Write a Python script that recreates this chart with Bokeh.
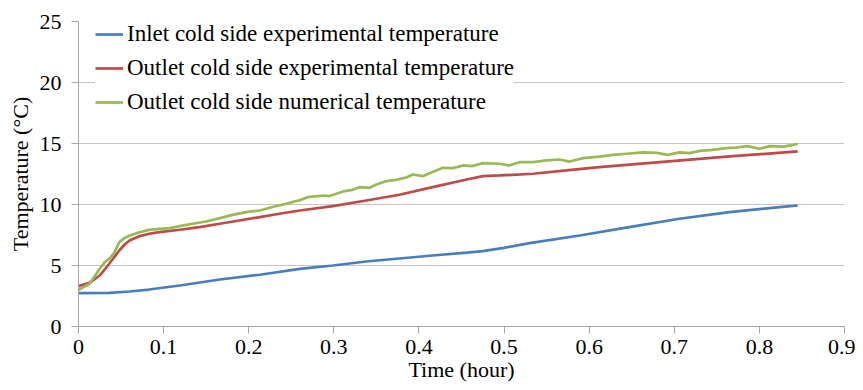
from bokeh.plotting import figure
from bokeh.models import Range1d, FixedTicker, Legend, LegendItem
from bokeh.embed import file_html
from bokeh.resources import INLINE

# ---- data ----
x_inlet = [0, 0.036, 0.06, 0.083, 0.119, 0.166, 0.213, 0.26, 0.299, 0.338, 0.416,
           0.456, 0.475, 0.5, 0.53, 0.589, 0.647, 0.706, 0.765, 0.824, 0.845]
y_inlet = [2.74, 2.76, 2.87, 3.03, 3.36, 3.85, 4.24, 4.73, 5.0, 5.33, 5.82,
           6.05, 6.18, 6.45, 6.83, 7.46, 8.15, 8.83, 9.38, 9.79, 9.92]

x_outlet_exp = [0, 0.013, 0.025, 0.036, 0.048, 0.054, 0.06, 0.072, 0.083, 0.095,
                0.119, 0.142, 0.166, 0.189, 0.213, 0.236, 0.26, 0.299, 0.338,
                0.377, 0.416, 0.456, 0.475, 0.495, 0.534, 0.573, 0.612, 0.69,
                0.769, 0.845]
y_outlet_exp = [3.31, 3.58, 4.18, 5.14, 6.23, 6.7, 7.05, 7.41, 7.6, 7.73,
                7.93, 8.15, 8.42, 8.69, 8.97, 9.24, 9.51, 9.87, 10.33,
                10.8, 11.42, 12.05, 12.33, 12.38, 12.52, 12.79, 13.07, 13.52,
                13.96, 14.35]

x_outlet_num = [0, 0.013, 0.025, 0.031, 0.036, 0.042, 0.048, 0.054, 0.06, 0.072,
                0.083, 0.095, 0.107, 0.119, 0.134, 0.15, 0.166, 0.181, 0.197,
                0.213, 0.228, 0.244, 0.26, 0.271, 0.289, 0.295, 0.311, 0.322,
                0.33, 0.342, 0.35, 0.362, 0.373, 0.385, 0.393, 0.405, 0.416,
                0.428, 0.44, 0.452, 0.463, 0.475, 0.495, 0.506, 0.518, 0.534,
                0.55, 0.565, 0.577, 0.593, 0.612, 0.628, 0.644, 0.663, 0.679,
                0.692, 0.706, 0.718, 0.73, 0.745, 0.761, 0.773, 0.786, 0.8,
                0.812, 0.828, 0.837, 0.845]
y_outlet_num = [3.0, 3.5, 4.73, 5.28, 5.55, 6.04, 6.92, 7.24, 7.46, 7.73,
                7.92, 8.0, 8.06, 8.23, 8.42, 8.61, 8.88, 9.15, 9.37,
                9.51, 9.79, 10.06, 10.36, 10.63, 10.74, 10.69, 11.07, 11.2,
                11.42, 11.37, 11.64, 11.92, 12.02, 12.21, 12.46, 12.33, 12.66,
                13.01, 12.98, 13.2, 13.15, 13.39, 13.34, 13.2, 13.47, 13.47,
                13.61, 13.69, 13.52, 13.8, 13.93, 14.07, 14.16, 14.27, 14.24,
                14.07, 14.27, 14.21, 14.4, 14.48, 14.62, 14.67, 14.78, 14.57,
                14.78, 14.75, 14.84, 14.98]

series_names = ["Inlet cold side experimental temperature",
                "Outlet cold side experimental temperature",
                "Outlet cold side numerical temperature"]
series_colors = ["#4a7ebb", "#be4b48", "#98b954"]

x_ticks = [0, 0.1, 0.2, 0.3, 0.4, 0.5, 0.6, 0.7, 0.8, 0.9]
x_tick_labels = ["0", "0.1", "0.2", "0.3", "0.4", "0.5", "0.6", "0.7", "0.8", "0.9"]
y_ticks = [0, 5, 10, 15, 20, 25]

FONT = "Times New Roman"

p = figure(width=855, height=384, output_backend="svg", toolbar_location=None,
           x_range=Range1d(0, 0.9), y_range=Range1d(0, 25),
           min_border_left=78, min_border_right=11, min_border_top=21,
           min_border_bottom=58)
p.outline_line_color = None
p.background_fill_color = "white"

r1 = p.line(x_inlet, y_inlet, line_color=series_colors[0], line_width=2.7)
r2 = p.line(x_outlet_exp, y_outlet_exp, line_color=series_colors[1], line_width=2.7)
r3 = p.line(x_outlet_num, y_outlet_num, line_color=series_colors[2], line_width=2.7)

# axes
p.xaxis.ticker = FixedTicker(ticks=x_ticks)
p.xaxis.major_label_overrides = {t: l for t, l in zip(x_ticks, x_tick_labels)}
p.yaxis.ticker = FixedTicker(ticks=y_ticks)
for ax in (p.xaxis, p.yaxis):
    ax.axis_line_color = "#a6a6a6"
    ax.major_tick_line_color = "#a6a6a6"
    ax.major_tick_out = 7
    ax.major_tick_in = 0
    ax.minor_tick_line_color = None
    ax.major_label_text_font = FONT
    ax.major_label_text_font_size = "22px"
    ax.major_label_text_color = "black"
    ax.axis_label_text_font = FONT
    ax.axis_label_text_font_size = "22px"
    ax.axis_label_text_font_style = "normal"
    ax.axis_label_text_color = "black"
p.xaxis.axis_label = "Time (hour)"
p.yaxis.axis_label = "Temperature (°C)"
p.xaxis.major_label_standoff = 6
p.yaxis.major_label_standoff = 10
p.xaxis.axis_label_standoff = 0
p.yaxis.axis_label_standoff = 4

p.xgrid.grid_line_color = None
p.ygrid.ticker = FixedTicker(ticks=y_ticks[1:])
p.ygrid.grid_line_color = "#c4c4c4"
p.ygrid.grid_line_width = 1

legend = Legend(items=[LegendItem(label=series_names[0], renderers=[r1]),
                       LegendItem(label=series_names[1], renderers=[r2]),
                       LegendItem(label=series_names[2], renderers=[r3])],
                location=(17, 211), padding=18, margin=0, spacing=8,
                glyph_width=28, glyph_height=20, label_height=20,
                label_standoff=4, label_text_font=FONT,
                label_text_font_size="23px", label_text_color="black",
                background_fill_color="white", background_fill_alpha=1.0,
                border_line_color=None)
p.add_layout(legend)

open("out.html", "w").write(file_html(p, INLINE))
